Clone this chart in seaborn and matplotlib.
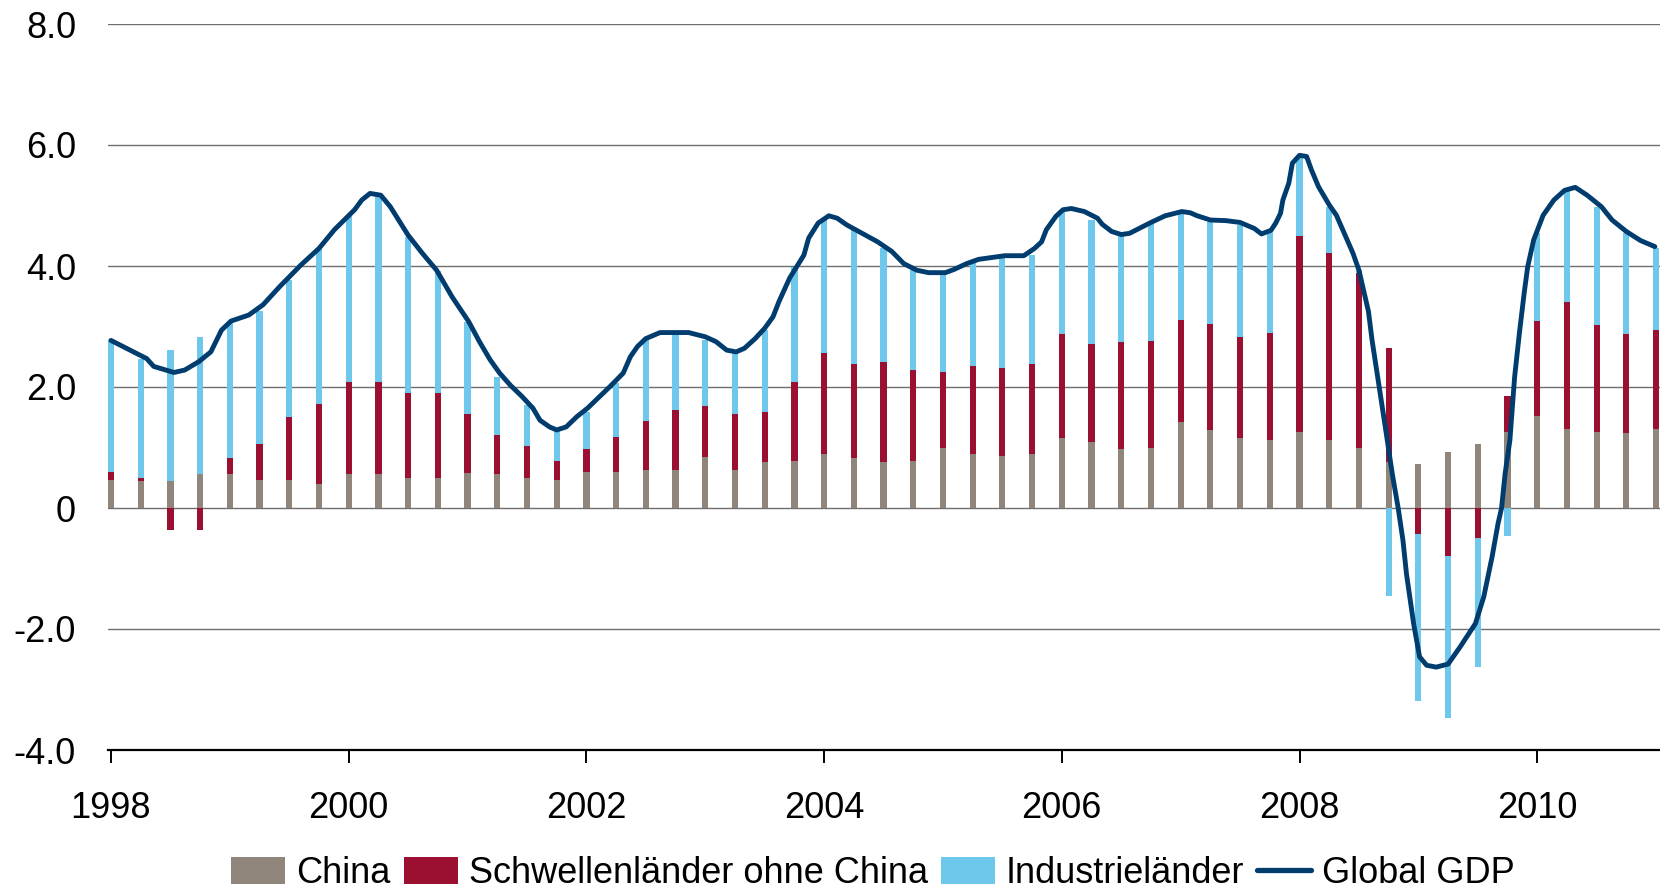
import numpy as np
import pandas as pd
import matplotlib
matplotlib.use("Agg")
import matplotlib.pyplot as plt
import seaborn as sns
from matplotlib.patches import Patch
from matplotlib.lines import Line2D

# ---------------- data ----------------
quarters = pd.period_range("1998Q1", "2011Q1", freq="Q")

china = [0.46, 0.44, 0.45, 0.57, 0.57, 0.46, 0.46, 0.40,
         0.57, 0.57, 0.50, 0.50, 0.58, 0.57, 0.50, 0.46,
         0.60, 0.60, 0.63, 0.63, 0.84, 0.63, 0.76, 0.78,
         0.89, 0.83, 0.76, 0.78, 0.99, 0.89, 0.86, 0.89,
         1.16, 1.09, 0.98, 0.99, 1.42, 1.29, 1.16, 1.12,
         1.26, 1.12, 0.99, 0.76, 0.72, 0.92, 1.05, 1.26,
         1.52, 1.31, 1.26, 1.24, 1.31]

emerging = [0.14, 0.06, -0.37, -0.37, 0.26, 0.59, 1.05, 1.32,
            1.51, 1.51, 1.40, 1.40, 0.97, 0.63, 0.53, 0.32,
            0.38, 0.57, 0.81, 0.99, 0.85, 0.92, 0.83, 1.30,
            1.67, 1.55, 1.65, 1.50, 1.26, 1.46, 1.45, 1.49,
            1.72, 1.62, 1.76, 1.77, 1.69, 1.75, 1.67, 1.77,
            3.24, 3.09, 2.89, 1.88, -0.43, -0.80, -0.50, 0.59,
            1.57, 2.09, 1.76, 1.64, 1.63]

industrial = [2.17, 1.97, 2.16, 2.25, 2.25, 2.20, 2.26, 2.57,
              2.74, 3.07, 2.58, 2.01, 1.53, 0.97, 0.67, 0.51,
              0.61, 0.89, 1.34, 1.27, 1.09, 1.01, 1.35, 1.91,
              2.23, 2.22, 1.88, 1.65, 1.63, 1.72, 1.84, 1.80,
              2.02, 2.05, 1.77, 1.95, 1.76, 1.69, 1.85, 1.68,
              1.28, 0.77, 0.06, -1.45, -2.76, -2.67, -2.13, -0.46,
              1.45, 1.86, 1.96, 1.66, 1.35]

gdp_year = [1998.00, 1998.30, 1998.36, 1998.53, 1998.62, 1998.74, 1998.84, 1998.93,
            1999.01, 1999.16, 1999.28, 1999.42, 1999.60, 1999.75, 1999.88,
            2000.05, 2000.11, 2000.18, 2000.27, 2000.35, 2000.50, 2000.62, 2000.74, 2000.87,
            2001.01, 2001.10, 2001.19, 2001.27, 2001.36, 2001.46, 2001.55, 2001.61, 2001.69,
            2001.75, 2001.83, 2001.92, 2002.01, 2002.11, 2002.20, 2002.31, 2002.37, 2002.43,
            2002.50, 2002.62, 2002.86, 2003.00, 2003.09, 2003.18, 2003.26, 2003.33, 2003.42,
            2003.50, 2003.57, 2003.62, 2003.71, 2003.83, 2003.87, 2003.95, 2004.04, 2004.11,
            2004.19, 2004.31, 2004.45, 2004.57, 2004.67, 2004.78, 2004.88, 2005.02, 2005.09,
            2005.20, 2005.30, 2005.52, 2005.68, 2005.77, 2005.83, 2005.87, 2005.95, 2006.01,
            2006.08, 2006.19, 2006.30, 2006.34, 2006.42, 2006.50, 2006.57, 2006.75, 2006.87,
            2007.01, 2007.08, 2007.14, 2007.25, 2007.38, 2007.50, 2007.62, 2007.68, 2007.76,
            2007.80, 2007.84, 2007.86, 2007.91, 2007.94, 2008.00, 2008.06, 2008.10, 2008.16,
            2008.25, 2008.31, 2008.37, 2008.45, 2008.50, 2008.58, 2008.61, 2008.67, 2008.73,
            2008.78, 2008.83, 2008.87, 2008.90, 2008.96, 2009.01, 2009.07, 2009.15, 2009.25,
            2009.35, 2009.48, 2009.55, 2009.62, 2009.67, 2009.70, 2009.73, 2009.77, 2009.81,
            2009.85, 2009.89, 2009.92, 2009.97, 2010.05, 2010.14, 2010.23, 2010.32, 2010.42,
            2010.54, 2010.63, 2010.75, 2010.87, 2010.99]

gdp_value = [2.77, 2.47, 2.34, 2.24, 2.28, 2.42, 2.58, 2.94,
             3.09, 3.19, 3.36, 3.66, 4.02, 4.29, 4.60,
             4.93, 5.09, 5.20, 5.17, 4.98, 4.51, 4.21, 3.93, 3.49,
             3.08, 2.75, 2.45, 2.23, 2.03, 1.84, 1.65, 1.45, 1.34,
             1.29, 1.34, 1.51, 1.65, 1.84, 2.01, 2.23, 2.50, 2.67,
             2.80, 2.90, 2.90, 2.83, 2.75, 2.61, 2.58, 2.64, 2.80,
             2.97, 3.16, 3.41, 3.80, 4.18, 4.46, 4.71, 4.83, 4.79,
             4.68, 4.55, 4.40, 4.24, 4.04, 3.93, 3.89, 3.89, 3.94,
             4.04, 4.11, 4.17, 4.17, 4.29, 4.40, 4.60, 4.82, 4.93,
             4.95, 4.90, 4.79, 4.69, 4.57, 4.52, 4.54, 4.72, 4.83,
             4.90, 4.88, 4.83, 4.76, 4.75, 4.72, 4.62, 4.53, 4.59,
             4.71, 4.87, 5.09, 5.37, 5.70, 5.83, 5.81, 5.59, 5.31,
             5.01, 4.84, 4.57, 4.21, 3.93, 3.25, 2.78, 2.01, 1.23,
             0.57, 0.00, -0.53, -1.09, -1.91, -2.46, -2.60, -2.63, -2.58,
             -2.30, -1.91, -1.47, -0.81, -0.26, 0.00, 0.57, 1.12, 2.17,
             2.89, 3.55, 3.99, 4.43, 4.84, 5.09, 5.25, 5.30, 5.17,
             4.98, 4.76, 4.57, 4.42, 4.32]

y_ticks = [-4, -2, 0, 2, 4, 6, 8]
y_tick_labels = ["-4.0", "-2.0", "0", "2.0", "4.0", "6.0", "8.0"]
x_ticks = [1998, 2000, 2002, 2004, 2006, 2008, 2010]
legend_labels = ["China", "Schwellenländer ohne China", "Industrieländer", "Global GDP"]

# ---------------- style ----------------
GREY = "#8f857b"
RED = "#9b0f30"
BLUE = "#6ec8ec"
NAVY = "#003c6e"
FS = 26

sns.set_theme(style="white")
plt.rcParams["font.family"] = ["Liberation Sans", "DejaVu Sans"]

x = np.asarray(quarters.year + (quarters.quarter - 1) / 4.0, dtype=float)
china_a = np.asarray(china)
em_a = np.asarray(emerging)
ind_a = np.asarray(industrial)

pos_em = np.clip(em_a, 0, None)
neg_em = np.clip(em_a, None, 0)
pos_ind = np.clip(ind_a, 0, None)
neg_ind = np.clip(ind_a, None, 0)

layers = [
    (china_a + pos_em + pos_ind, BLUE),
    (china_a + pos_em, RED),
    (china_a, GREY),
    (neg_em + neg_ind, BLUE),
    (neg_em, RED),
]

W, H = 1660, 890
fig = plt.figure(figsize=(W / 100, H / 100), dpi=100)
x_left_px = 108
ax = fig.add_axes([x_left_px / W, 1 - 750 / H, (W - x_left_px) / W, (750 - 24) / H])

for vals, col in layers:
    sns.barplot(x=x, y=vals, native_scale=True, width=0.21, color=col,
                saturation=1, linewidth=0, errorbar=None, ax=ax, zorder=2)

sns.lineplot(x=gdp_year, y=gdp_value, color=NAVY, linewidth=3.5, ax=ax,
             zorder=3, solid_joinstyle="round", solid_capstyle="round")

ax.set_xlim(1997.975, 2011.033)
ax.set_ylim(-4, 8)
ax.set_yticks(y_ticks)
ax.set_yticklabels(y_tick_labels)
ax.set_xticks(x_ticks)
ax.set_xticklabels([str(v) for v in x_ticks])
ax.set_xlabel("")
ax.set_ylabel("")

ax.set_axisbelow(True)
ax.grid(axis="y", color="#6f6f6f", linewidth=1.0)
ax.grid(axis="x", visible=False)
for s in ["top", "right", "left"]:
    ax.spines[s].set_visible(False)
ax.spines["bottom"].set_color("black")
ax.spines["bottom"].set_linewidth(1.6)
ax.spines["bottom"].set_zorder(4)

ax.tick_params(axis="x", bottom=True, direction="out", length=9.4, width=1.4,
               color="black", pad=20, labelsize=FS, labelcolor="black")
ax.tick_params(axis="y", left=False, length=0, pad=23, labelsize=FS, labelcolor="black")

handles = [Patch(facecolor=GREY, edgecolor="none"),
           Patch(facecolor=RED, edgecolor="none"),
           Patch(facecolor=BLUE, edgecolor="none"),
           Line2D([0], [0], color=NAVY, linewidth=3.8)]
leg = fig.legend(handles, legend_labels, loc="upper center",
                 bbox_to_anchor=(873 / W, 1 - 856 / H), ncol=4, frameon=False,
                 fontsize=FS, handlelength=1.5, handleheight=0.8,
                 handletextpad=0.3, columnspacing=0.36, borderpad=0, borderaxespad=0)
for t in leg.get_texts():
    t.set_color("black")

fig.savefig("out.png", dpi=100)
